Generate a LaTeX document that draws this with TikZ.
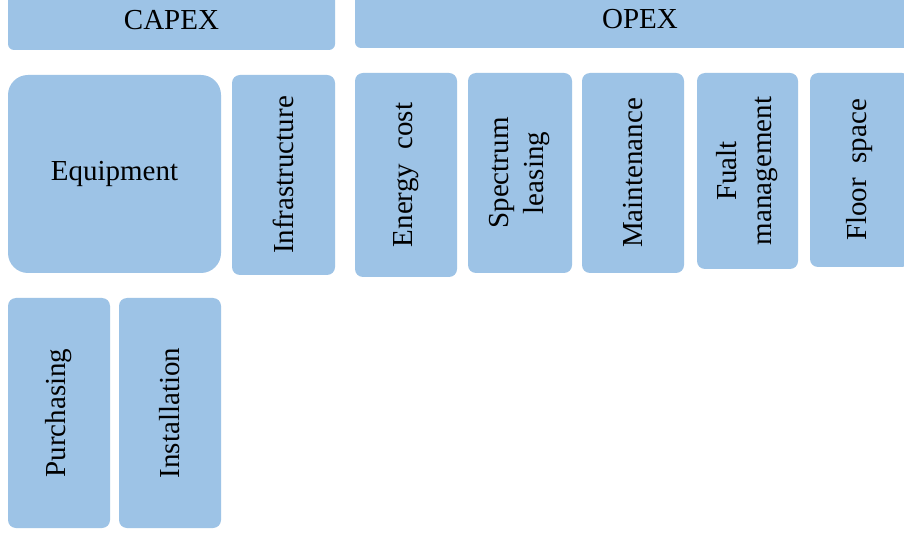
\documentclass[tikz,border=0pt]{standalone}
\usepackage{fontspec}
\setmainfont{Liberation Serif}
\usepackage{tikz}
\usetikzlibrary{positioning}
\definecolor{costblue}{HTML}{9DC3E6}

\begin{document}
\begin{tikzpicture}[
  x=1pt, y=-1pt,
  font=\fontsize{29}{35}\selectfont,
  head/.style={fill=costblue, rounded corners=6pt, align=center, inner sep=0pt},
  cbox/.style={fill=costblue, rounded corners=8pt, align=center, inner sep=0pt},
  vbox/.style={fill=costblue, rounded corners=8pt, align=center, inner sep=0pt,
               rotate=90},
]
\useasboundingbox[fill=white] (0,0) rectangle (904,534);

% header bars
\node[head, minimum width=327pt, minimum height=60pt] (capex) at (171.5,20)  {CAPEX};
\node[head, minimum width=570pt, minimum height=58pt] (opex)  at (640,19)    {OPEX};

% CAPEX items
\node[cbox, rounded corners=20pt, minimum width=213pt, minimum height=198pt]
      (equip) at (114.5,174) {Equipment};
\node[vbox, minimum width=200pt, minimum height=103pt] (infra) at (283.5,175) {Infrastructure};
\node[vbox, minimum width=230pt, minimum height=102pt] (purch) at (59,413)    {Purchasing};
\node[vbox, minimum width=230pt, minimum height=102pt] (inst)  at (170,413)   {Installation};

% OPEX items
\node[vbox, minimum width=204pt, minimum height=102pt] (energy) at (406,175)  {Energy\ \ cost};
\node[vbox, minimum width=200pt, minimum height=104pt] (spec)   at (520,173)  {Spectrum\\leasing};
\node[vbox, minimum width=200pt, minimum height=102pt] (maint)  at (633,173)  {Maintenance};
\node[vbox, minimum width=196pt, minimum height=101pt] (fault)  at (747.5,171) {Fualt\\management};
\node[vbox, minimum width=194pt, minimum height=100pt] (floor)  at (860,170)  {Floor\ \ space};
\end{tikzpicture}
\end{document}
